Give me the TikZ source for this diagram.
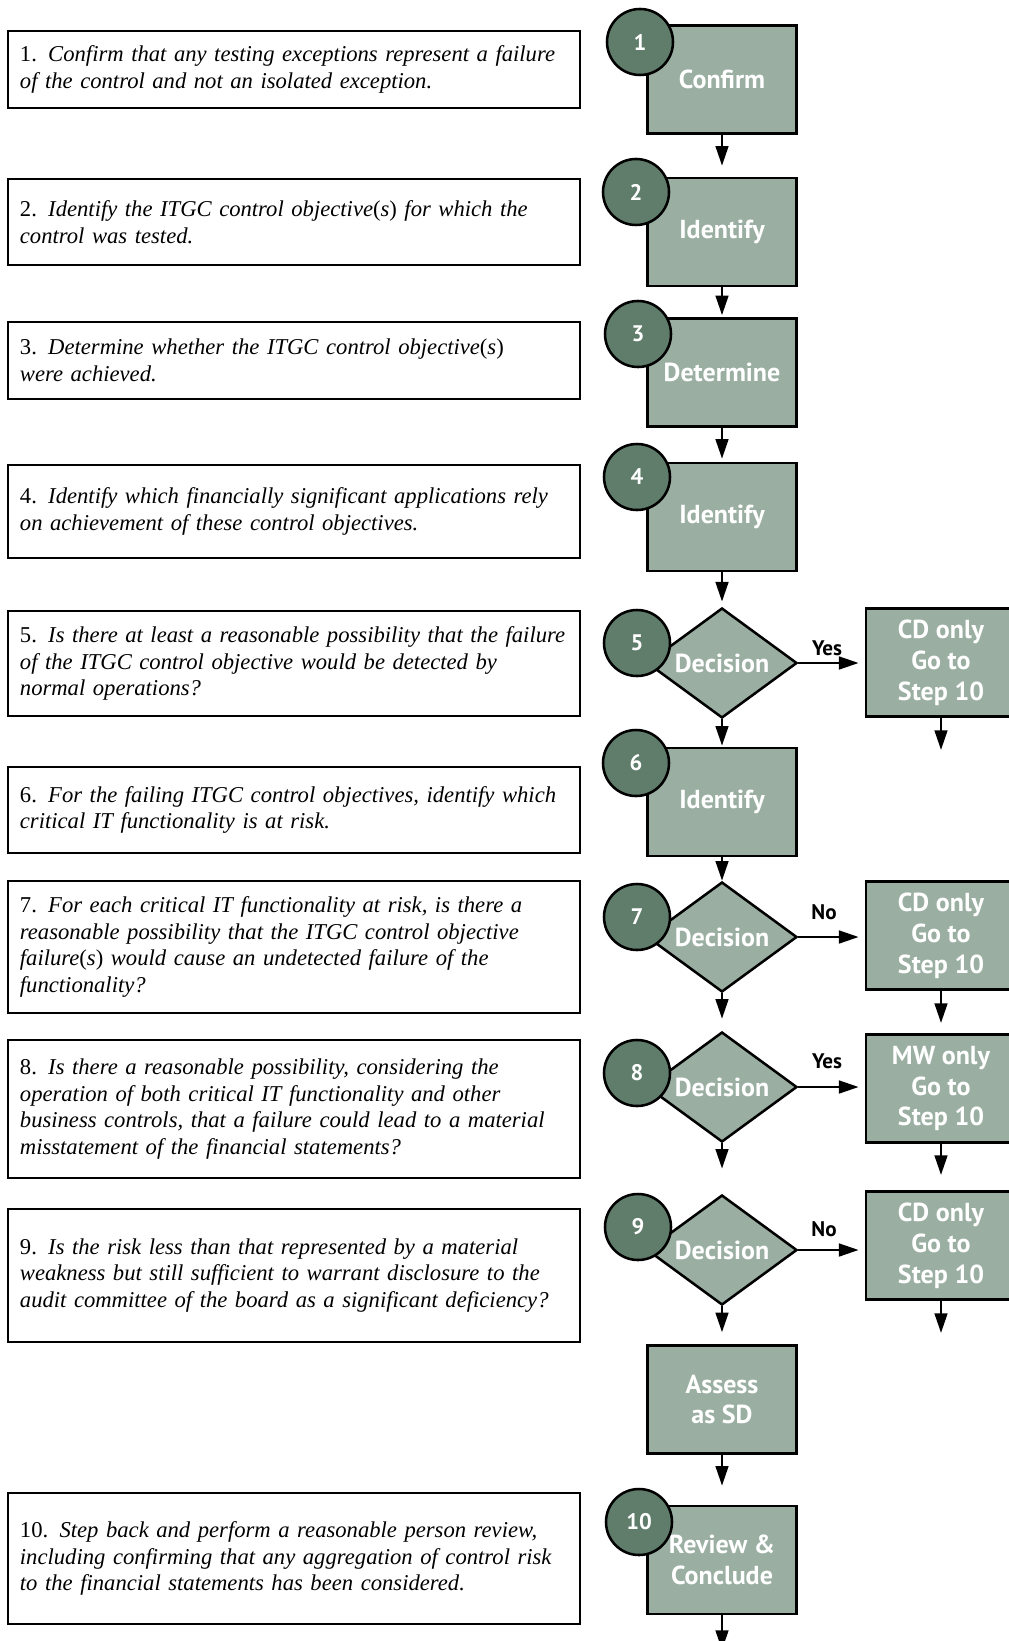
\documentclass[tikz,border=0pt]{standalone}
\usepackage{fontspec}
\setmainfont{Liberation Serif}
\newfontfamily\stepfont{PT Sans}
\usetikzlibrary{shapes.geometric,arrows.meta,calc}

\definecolor{stepfill}{HTML}{9AAFA2}
\definecolor{numfill}{HTML}{607D6B}

\begin{document}
\begin{tikzpicture}[x=0.025cm,y=-0.025cm,
	stepbox/.style={draw,line width=1.8pt,fill=stepfill,minimum width=3.725cm,minimum height=2.7cm,
		inner sep=0pt,align=center,text=white,font=\stepfont\bfseries\fontsize{18.5}{22}\selectfont},
	sidebox/.style={stepbox,minimum width=3.75cm},
	decide/.style={diamond,aspect=1.36,draw,line width=1.8pt,fill=stepfill,minimum width=3.75cm,
		minimum height=2.75cm,inner sep=0pt,text=white,font=\stepfont\bfseries\fontsize{18.5}{22}\selectfont},
	numdot/.style={circle,draw,line width=1.8pt,fill=numfill,minimum size=1.65cm,inner sep=0pt,
		text=white,font=\stepfont\bfseries\fontsize{16}{16}\selectfont},
	descbox/.style={draw,line width=1.6pt,minimum height=#1,text width=13.7cm,inner xsep=0.3cm,
		align=left,font=\rmfamily\fontsize{16.1}{18.8}\selectfont},
	answer/.style={font=\stepfont\bfseries\fontsize{15}{15}\selectfont},
	conn/.style={-{Triangle[length=14pt,width=9pt]},line width=1.8pt}]
	\useasboundingbox (0,0) rectangle (1008,1641);
	%
	% descriptions
	\node[descbox=1.925cm] (t1) at (294,69.5) {1. \textit{Confirm that any testing exceptions represent a failure\\ of the control and not an isolated exception.}};
	\node[descbox=2.15cm] (t2) at (294,222) {2. \textit{Identify the ITGC control objective\textup{(}s\textup{)} for which the\\ control was tested.}};
	\node[descbox=1.925cm] (t3) at (294,360.5) {3. \textit{Determine whether the ITGC control objective\textup{(}s\textup{)}\\ were achieved.}};
	\node[descbox=2.325cm] (t4) at (294,511.5) {4. \textit{Identify which financially significant applications rely\\ on achievement of these control objectives.}};
	\node[descbox=2.625cm] (t5) at (294,663.5) {5. \textit{Is there at least a reasonable possibility that the failure\\ of the ITGC control objective would be detected by\\ normal operations?}};
	\node[descbox=2.15cm] (t6) at (294,810) {6. \textit{For the failing ITGC control objectives, identify which\\ critical IT functionality is at risk.}};
	\node[descbox=3.3cm] (t7) at (294,947) {7. \textit{For each critical IT functionality at risk, is there a\\ reasonable possibility that the ITGC control objective\\ failure\textup{(}s\textup{)} would cause an undetected failure of the\\ functionality?}};
	\node[descbox=3.45cm] (t8) at (294,1109) {8. \textit{Is there a reasonable possibility, considering the\\ operation of both critical IT functionality and other\\ business controls, that a failure could lead to a material\\ misstatement of the financial statements?}};
	\node[descbox=3.325cm] (t9) at (294,1275.5) {9. \textit{Is the risk less than that represented by a material\\ weakness but still sufficient to warrant disclosure to the\\ audit committee of the board as a significant deficiency?}};
	\node[descbox=3.275cm] (t10) at (294,1558.5) {10. \textit{Step back and perform a reasonable person review,\\ including confirming that any aggregation of control risk\\ to the financial statements has been considered.}};
	%
	% main column
	\node[stepbox] (confirm) at (722,79.5) {Confirm};
	\node[stepbox] (identA) at (722,232) {Identify};
	\node[stepbox] (determine) at (722,372.5) {Determine};
	\node[stepbox] (identB) at (722,517) {Identify};
	\node[decide] (dec5) at (722,663) {Decision};
	\node[stepbox] (identC) at (722,802) {Identify};
	\node[decide] (dec7) at (722,937) {Decision};
	\node[decide] (dec8) at (722,1087) {Decision};
	\node[decide] (dec9) at (722,1250) {Decision};
	\node[stepbox] (assess) at (722,1399.5) {Assess\\as SD};
	\node[stepbox] (review) at (722,1560) {Review \&\\Conclude};
	\coordinate (reviewend) at (722,1650);
	%
	% step numbers
	\node[numdot] (n1) at (640,42) {1};
	\node[numdot] (n2) at (636,192) {2};
	\node[numdot] (n3) at (638,334) {3};
	\node[numdot] (n4) at (637,477) {4};
	\node[numdot] (n5) at (637,643) {5};
	\node[numdot] (n6) at (636,763) {6};
	\node[numdot] (n7) at (637,917) {7};
	\node[numdot] (n8) at (637,1073) {8};
	\node[numdot] (n9) at (638,1227) {9};
	\node[numdot] (n10) at (639,1522) {10};
	%
	% side exits
	\node[sidebox] (cd5) at (941,662.5) {CD only\\Go to\\Step 10};
	\node[sidebox] (cd7) at (941,935.5) {CD only\\Go to\\Step 10};
	\node[sidebox] (mw8) at (941,1088.5) {MW only\\Go to\\Step 10};
	\node[sidebox] (cd9) at (941,1245.5) {CD only\\Go to\\Step 10};
	\coordinate (cd5end) at (941,750);
	\coordinate (cd7end) at (941,1023);
	\coordinate (mw8end) at (941,1175);
	\coordinate (cd9end) at (941,1333);
	\node[answer] (yes5) at (827,648) {Yes};
	\node[answer] (no7) at (824,912) {No};
	\node[answer] (yes8) at (827,1061) {Yes};
	\node[answer] (no9) at (824,1229) {No};
	%
	\draw[conn,shorten >=7.8pt] (confirm.south) -- (identA.north);
	\draw[conn,shorten >=1.4pt] (identA.south) -- (determine.north);
	\draw[conn,shorten >=2.1pt] (determine.south) -- (identB.north);
	\draw[conn,shorten >=3.6pt] (identB.south) -- (dec5.north);
	\draw[conn,shorten >=0.7pt] (dec5.south) -- (identC.north);
	\draw[conn] (identC.south) -- (dec7.north);
	\draw[conn,shorten >=8.5pt] (dec7.south) -- (dec8.north);
	\draw[conn,shorten >=17.8pt] (dec8.south) -- (dec9.north);
	\draw[conn,shorten >=8.5pt] (dec9.south) -- (assess.north);
	\draw[conn,shorten >=13.5pt] (assess.south) -- (review.north);
	\draw[conn] (review.south) -- (reviewend);
	%
	\draw[conn,shorten >=4.3pt] (dec5.east) -- (dec5.east -| cd5.west);
	\draw[conn,shorten >=4.3pt] (dec7.east) -- (dec7.east -| cd7.west);
	\draw[conn,shorten >=4.3pt] (dec8.east) -- (dec8.east -| mw8.west);
	\draw[conn,shorten >=4.3pt] (dec9.east) -- (dec9.east -| cd9.west);
	\draw[conn] (cd5.south) -- (cd5end);
	\draw[conn] (cd7.south) -- (cd7end);
	\draw[conn] (mw8.south) -- (mw8end);
	\draw[conn] (cd9.south) -- (cd9end);
\end{tikzpicture}
\end{document}
